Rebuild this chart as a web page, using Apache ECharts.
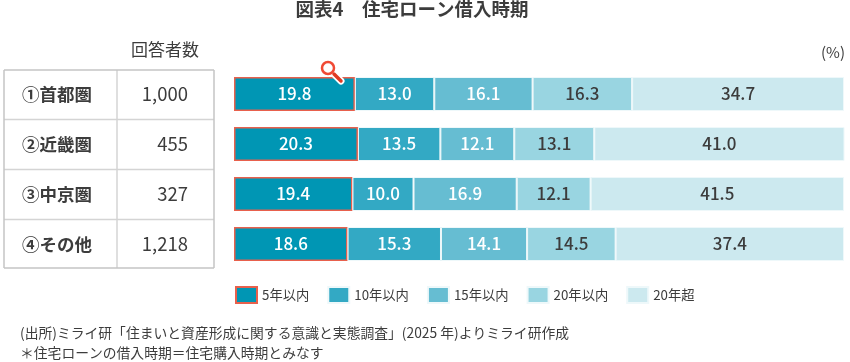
<!DOCTYPE html>
<html>
<head>
<meta charset="utf-8">
<style type="text/css">
    html, body { margin: 0; padding: 0; background: #fff; }
    #main { width: 850px; height: 362px; }
</style>
<script src="https://cdn.jsdelivr.net/npm/echarts@6/dist/echarts.min.js"></script>
</head>
<body>
<div id="main"></div>
<script>
var regions = ['①首都圏', '②近畿圏', '③中京圏', '④その他'];
var counts = ['1,000', '455', '327', '1,218'];
var seriesNames = ['5年以内', '10年以内', '15年以内', '20年以内', '20年超'];
var within5 = [19.8, 20.3, 19.4, 18.6];
var within10 = [13.0, 13.5, 10.0, 15.3];
var within15 = [16.1, 12.1, 16.9, 14.1];
var within20 = [16.3, 13.1, 12.1, 14.5];
var over20 = [34.7, 41.0, 41.5, 37.4];
var values = [within5, within10, within15, within20, over20];
var colors = ['#0096b4', '#33a9c4', '#66bdd2', '#99d5e1', '#cce9ef'];
var labelColors = ['#fff', '#fff', '#fff', '#3c3c3c', '#3c3c3c'];

var font = '"Noto Sans CJK JP"';
var textColor = '#3c3c3c';

var series = [];
for (var i = 0; i < values.length; i++) {
    series.push({
        name: seriesNames[i],
        type: 'bar',
        stack: 'total',
        barWidth: 34,
        data: values[i],
        itemStyle: {
            color: colors[i],
            borderColor: i == 0 ? '#e8604c' : '#eef8fa',
            borderWidth: i == 0 ? 1.5 : 1
        },
        label: {
            show: true,
            position: 'inside',
            fontFamily: font,
            fontSize: 17,
            fontWeight: 500,
            color: labelColors[i],
            formatter: function (p) { return p.value.toFixed(1); }
        }
    });
}

// table frame
var tableLines = [];
function tableLine(x1, y1, x2, y2, color) {
    tableLines.push({
        type: 'line',
        z: 10,
        shape: { x1: x1, y1: y1, x2: x2, y2: y2 },
        style: { stroke: color, lineWidth: 1.5 }
    });
}
tableLine(117, 70, 117, 268, '#d4d4d4');
tableLine(4, 119.5, 214, 119.5, '#d4d4d4');
tableLine(4, 169.5, 214, 169.5, '#d4d4d4');
tableLine(4, 219.5, 214, 219.5, '#d4d4d4');
tableLine(4, 70, 214, 70, '#c4c4c4');
tableLine(4, 268, 214, 268, '#c4c4c4');
tableLine(4, 70, 4, 268, '#c4c4c4');
tableLine(214, 70, 214, 268, '#c4c4c4');

function plainText(x, y, text, size, align, weight) {
    return {
        type: 'text',
        z: 10,
        x: x,
        y: y,
        style: {
            text: text,
            fill: textColor,
            font: (weight || 'normal') + ' ' + size + 'px ' + font,
            textAlign: align || 'left',
            textVerticalAlign: 'middle'
        }
    };
}

var magnifier = [
    { type: 'line', z: 20, shape: { x1: 334, y1: 74, x2: 341, y2: 81 }, style: { stroke: '#fff', lineWidth: 7, lineCap: 'round' } },
    { type: 'circle', z: 20, shape: { cx: 328, cy: 68, r: 6.5 }, style: { fill: 'rgba(255,255,255,0.7)', stroke: '#fff', lineWidth: 5 } },
    { type: 'line', z: 21, shape: { x1: 334, y1: 74, x2: 341, y2: 81 }, style: { stroke: '#e03a22', lineWidth: 3.5, lineCap: 'round' } },
    { type: 'circle', z: 21, shape: { cx: 328, cy: 68, r: 6 }, style: { fill: 'rgba(255,255,255,0.6)', stroke: '#f04a35', lineWidth: 2.5 } }
];

var chart = echarts.init(document.getElementById('main'));
chart.setOption({
    animation: false,
    textStyle: { fontFamily: font },
    grid: { left: 234, top: 69, width: 610, height: 200 },
    xAxis: { type: 'value', min: 0, max: 99.9, show: false },
    yAxis: [
        {
            type: 'category',
            inverse: true,
            data: regions,
            axisLine: { show: false },
            axisTick: { show: false },
            axisLabel: { margin: 177, align: 'center', padding: [0, 0, 2, 0], fontFamily: font, fontSize: 17.5, fontWeight: 'bold', color: textColor }
        },
        {
            type: 'category',
            position: 'left',
            inverse: true,
            data: counts,
            axisLine: { show: false },
            axisTick: { show: false },
            axisLabel: { margin: 46, align: 'right', padding: [2, 0, 0, 0], fontFamily: font, fontSize: 18.5, color: textColor }
        }
    ],
    legend: {
        left: 230,
        top: 281,
        icon: 'rect',
        itemWidth: 21,
        itemHeight: 16,
        itemGap: 18,
        data: seriesNames,
        textStyle: { fontFamily: font, fontSize: 13.3, color: textColor }
    },
    graphic: tableLines.concat([
        plainText(412, 9, '図表4　住宅ローン借入時期', 18.5, 'center', 'bold'),
        plainText(165, 50, '回答者数', 17, 'center'),
        plainText(845, 52, '(%)', 15, 'right'),
        plainText(20, 333, '(出所)ミライ研「住まいと資産形成に関する意識と実態調査」(2025 年)よりミライ研作成', 13.8),
        plainText(20, 353, '＊住宅ローンの借入時期＝住宅購入時期とみなす', 13.8)
    ]).concat(magnifier),
    series: series
});
</script>
</body>
</html>
